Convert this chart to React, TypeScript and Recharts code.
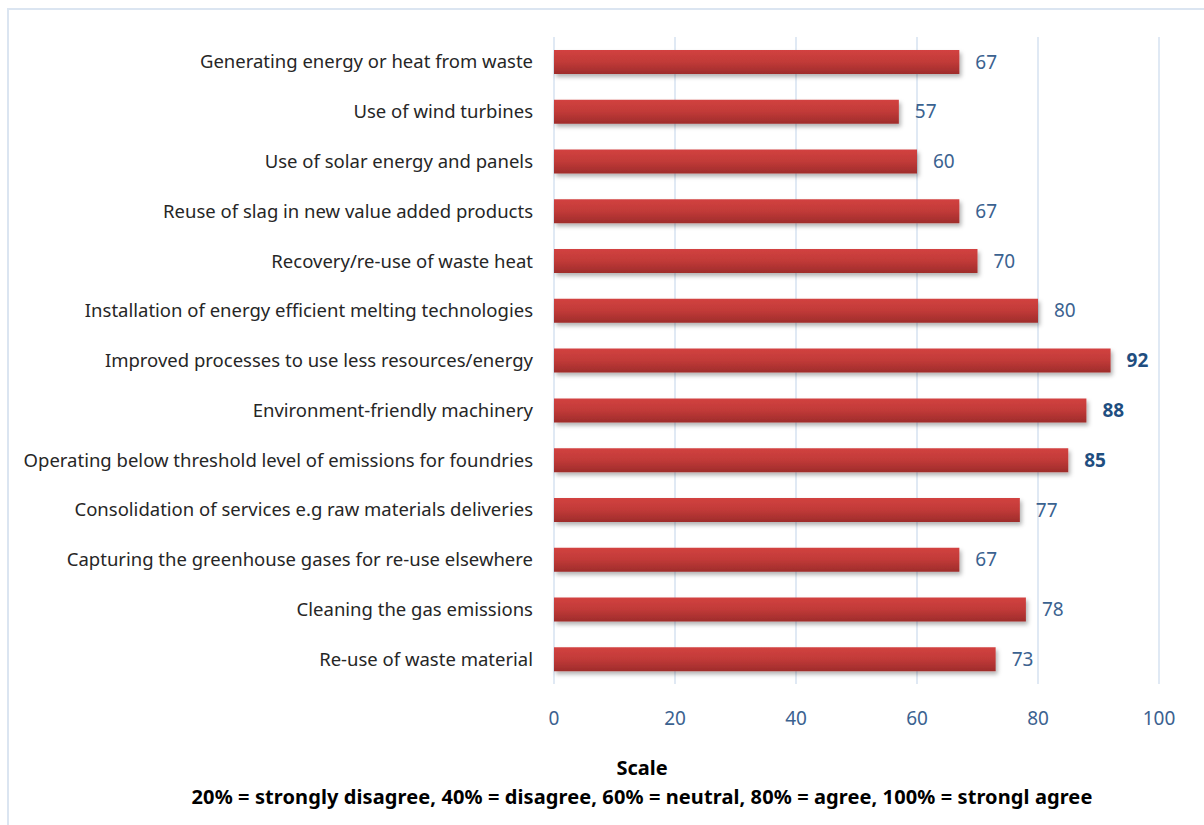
import { BarChart, Bar, XAxis, YAxis, CartesianGrid, LabelList } from "recharts";

const categories = [
  "Generating energy or heat from waste",
  "Use of wind turbines",
  "Use of solar energy and panels",
  "Reuse of slag in new value added products",
  "Recovery/re-use of waste heat",
  "Installation of energy efficient melting technologies",
  "Improved processes to use less resources/energy",
  "Environment-friendly machinery",
  "Operating below threshold level of emissions for foundries",
  "Consolidation of services e.g raw materials deliveries",
  "Capturing the greenhouse gases for re-use elsewhere",
  "Cleaning the gas emissions ",
  "Re-use of waste material",
];

const scores = [67, 57, 60, 67, 70, 80, 92, 88, 85, 77, 67, 78, 73];

const xTicks = [0, 20, 40, 60, 80, 100];

// values shown in bold in the source
const highlighted = [92, 88, 85];

const data = categories.map((name, i) => ({ name, value: scores[i] }));

const FONT = "'Noto Sans', sans-serif";

const renderValue = (props: any) => {
  const { x, y, width, height, value } = props;
  const bold = highlighted.includes(value);
  return (
    <text
      x={x + width + 16}
      y={y + height / 2}
      dy="0.35em"
      fontSize={19}
      fontFamily={FONT}
      fontWeight={bold ? 700 : 400}
      fill={bold ? "#1f4e80" : "#3b6290"}
    >
      {value}
    </text>
  );
};

export default function App() {
  return (
    <div
      style={{
        position: "absolute",
        left: 0,
        top: 0,
        width: 1204,
        height: 825,
        background: "#fff",
        overflow: "hidden",
      }}
    >
      <div
        style={{
          position: "absolute",
          left: 7,
          top: 8,
          width: 1300,
          height: 900,
          border: "2px solid #dbe5f1",
        }}
      />
      <BarChart
        layout="vertical"
        width={1204}
        height={825}
        data={data}
        margin={{ top: 37, right: 45, bottom: 111, left: 0 }}
        barCategoryGap={13}
        style={{ position: "absolute", left: 0, top: 0 }}
      >
        <defs>
          <linearGradient id="barFill" x1="0" y1="0" x2="0" y2="1">
            <stop offset="0%" stopColor="#d24240" />
            <stop offset="50%" stopColor="#c13a38" />
            <stop offset="100%" stopColor="#9e2c2b" />
          </linearGradient>
          <filter id="barShadow" x="-5%" y="-20%" width="110%" height="160%">
            <feDropShadow dx="2" dy="3" stdDeviation="2" floodColor="#000" floodOpacity="0.3" />
          </filter>
        </defs>
        <CartesianGrid horizontal={false} stroke="#d6e2f0" strokeWidth={1.5} />
        <XAxis
          type="number"
          domain={[0, 100]}
          ticks={xTicks}
          axisLine={false}
          tickLine={false}
          tickMargin={22}
          tick={{ fontSize: 19, fill: "#3b6290", fontFamily: FONT }}
        />
        <YAxis
          type="category"
          dataKey="name"
          width={554}
          axisLine={false}
          tickLine={false}
          tickMargin={15}
          interval={0}
          tick={{ fontSize: 18.5, fill: "#262626", fontFamily: FONT }}
        />
        <Bar
          dataKey="value"
          fill="url(#barFill)"
          filter="url(#barShadow)"
          isAnimationActive={false}
        >
          <LabelList dataKey="value" content={renderValue} />
        </Bar>
      </BarChart>
      <div
        style={{
          position: "absolute",
          left: 0,
          width: 1284,
          top: 754,
          textAlign: "center",
          fontFamily: FONT,
          fontWeight: 700,
          fontSize: 20,
          color: "#000",
        }}
      >
        Scale
      </div>
      <div
        style={{
          position: "absolute",
          left: 0,
          width: 1284,
          top: 783,
          textAlign: "center",
          fontFamily: FONT,
          fontWeight: 700,
          fontSize: 20,
          letterSpacing: 0.1,
          color: "#000",
        }}
      >
        20% = strongly disagree, 40% = disagree, 60% = neutral, 80% = agree, 100% = strongl agree
      </div>
    </div>
  );
}
